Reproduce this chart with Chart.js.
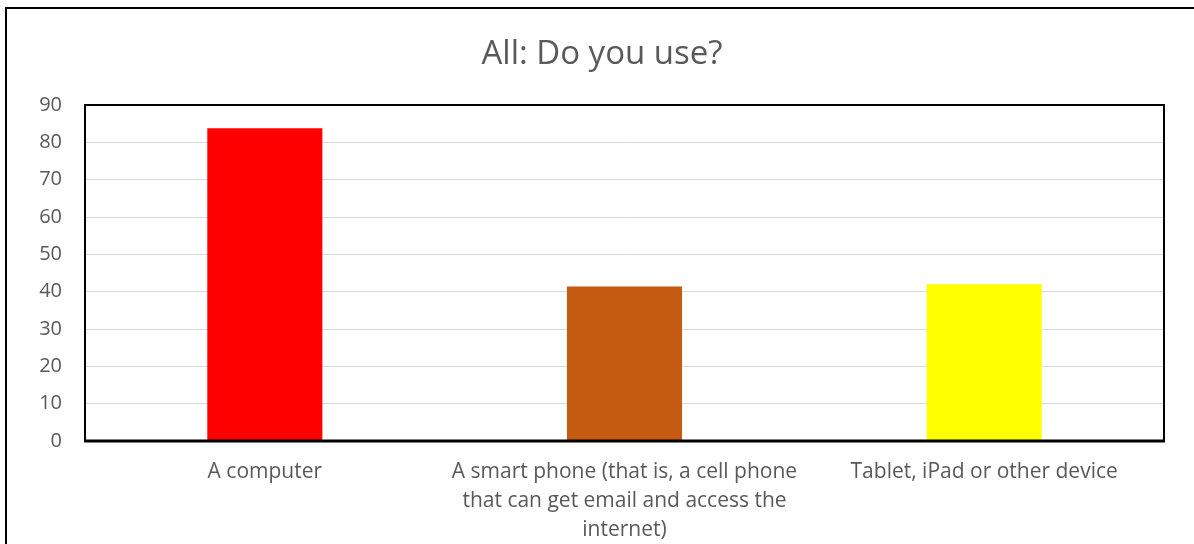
<!DOCTYPE html>
<html>
<head>
<meta charset="utf-8">
<script src="https://cdn.jsdelivr.net/npm/chart.js@4/dist/chart.umd.min.js"></script>
<style>
  html, body { margin: 0; padding: 0; background: #ffffff; }
  #wrap { position: relative; width: 1194px; height: 544px; overflow: hidden; }
  #frame {
    position: absolute; left: 5px; top: 7px; width: 1300px; height: 600px;
    border-left: 2px solid #000; border-top: 2px solid #000;
    pointer-events: none; box-sizing: border-box;
  }
  canvas { position: absolute; left: 0; top: 0; }
</style>
</head>
<body>
<div id="wrap">
  <canvas id="chart" width="1194" height="544"></canvas>
  <div id="frame"></div>
</div>
<script>
// Survey answers: share of respondents using each device
const categories = [
  'A computer',
  ['A smart phone (that is, a cell phone', 'that can get email and access the', 'internet)'],
  'Tablet, iPad or other device'
];
const values = [83.8, 41.4, 42.0];
const barColors = ['#FF0000', '#C55A11', '#FFFF00'];
const yTicks = { min: 0, max: 90, step: 10 };

const textColor = '#595959';
const fontFamily = '"Open Sans", "Noto Sans", sans-serif';

// Black frame around the plotting area
const plotFrame = {
  id: 'plotFrame',
  afterDatasetsDraw(chart) {
    const { ctx, chartArea: a } = chart;
    ctx.save();
    ctx.strokeStyle = '#000';
    ctx.lineWidth = 2;
    ctx.strokeRect(a.left, a.top, a.right - a.left, a.bottom - a.top);
    ctx.lineWidth = 3;
    ctx.beginPath();
    ctx.moveTo(a.left - 1, a.bottom);
    ctx.lineTo(a.right + 1, a.bottom);
    ctx.stroke();
    ctx.restore();
  }
};

new Chart(document.getElementById('chart'), {
  type: 'bar',
  data: {
    labels: categories,
    datasets: [{
      data: values,
      backgroundColor: barColors,
      borderWidth: 0,
      categoryPercentage: 1,
      barPercentage: 0.32
    }]
  },
  options: {
    responsive: false,
    animation: false,
    // title is centred over the whole framed figure, so the padding is uneven
    layout: { padding: { left: 20, right: 10, top: 0, bottom: 0 } },
    plugins: {
      legend: { display: false },
      tooltip: { enabled: false },
      title: {
        display: true,
        text: 'All: Do you use?',
        color: textColor,
        font: { family: fontFamily, size: 33, weight: 'normal', lineHeight: 1.2 },
        padding: { top: 35, bottom: 30.4 }
      }
    },
    scales: {
      x: {
        grid: { display: false, drawTicks: false },
        border: { display: false },
        ticks: {
          color: textColor,
          padding: 17,
          maxRotation: 0,
          autoSkip: false,
          font: { family: fontFamily, size: 21, lineHeight: 1.38 }
        },
        afterFit(scale) { scale.height = 103; }
      },
      y: {
        min: yTicks.min,
        max: yTicks.max,
        grid: { color: '#D9D9D9', lineWidth: 1, drawTicks: false },
        border: { display: false },
        ticks: {
          stepSize: yTicks.step,
          color: textColor,
          padding: 23,
          font: { family: fontFamily, size: 20 }
        },
        afterFit(scale) { scale.width = 65; }
      },
      // empty right-hand margin beside the plot
      yRight: {
        position: 'right',
        grid: { display: false, drawTicks: false },
        border: { display: false },
        ticks: { display: false },
        afterFit(scale) { scale.width = 20; }
      }
    }
  },
  plugins: [plotFrame]
});
</script>
</body>
</html>
